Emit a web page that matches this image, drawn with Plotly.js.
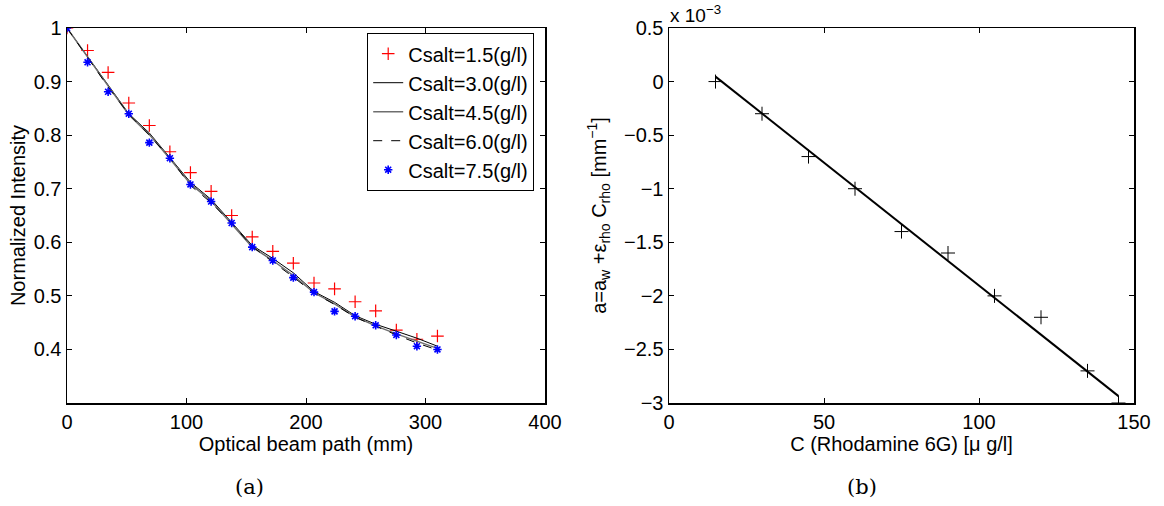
<!DOCTYPE html>
<html>
<head>
<meta charset="utf-8">
<script src="https://cdn.plot.ly/plotly-3.0.1.min.js"></script>
<style>
  html, body { margin: 0; padding: 0; background: #fff; }
  #chart { width: 1164px; height: 506px; }
</style>
</head>
<body>
<div id="chart"></div>
<script>
// ---- Panel (a): normalized intensity vs optical beam path ----
const pathMm = [0, 17.2, 34.4, 51.7, 68.9, 86.1, 103.3, 120.6, 137.8, 155.0, 172.2, 189.4, 206.7, 223.9, 241.1, 258.3, 275.6, 292.8, 310.0];
const csalt15 = [1.000, 0.958, 0.917, 0.860, 0.818, 0.769, 0.730, 0.695, 0.650, 0.610, 0.583, 0.561, 0.524, 0.513, 0.489, 0.472, 0.436, 0.419, 0.425];
const csalt30 = [1.000, 0.947, 0.895, 0.840, 0.804, 0.757, 0.712, 0.680, 0.637, 0.594, 0.570, 0.543, 0.508, 0.488, 0.463, 0.447, 0.434, 0.421, 0.406];
const csalt45 = [1.000, 0.945, 0.892, 0.838, 0.801, 0.756, 0.709, 0.677, 0.634, 0.591, 0.566, 0.538, 0.506, 0.485, 0.461, 0.444, 0.429, 0.415, 0.402];
const csalt60 = [1.000, 0.944, 0.890, 0.839, 0.800, 0.757, 0.706, 0.674, 0.635, 0.592, 0.564, 0.535, 0.505, 0.484, 0.460, 0.443, 0.427, 0.412, 0.399];
const csalt75 = [1.000, 0.936, 0.881, 0.840, 0.786, 0.757, 0.708, 0.676, 0.636, 0.591, 0.566, 0.534, 0.507, 0.471, 0.462, 0.445, 0.427, 0.406, 0.400];
const seriesNames = ["Csalt=1.5(g/l)", "Csalt=3.0(g/l)", "Csalt=4.5(g/l)", "Csalt=6.0(g/l)", "Csalt=7.5(g/l)"];
const ticksA_x = [0, 100, 200, 300, 400];
const ticksA_y = [0.4, 0.5, 0.6, 0.7, 0.8, 0.9, 1];

// ---- Panel (b): absorption coefficient vs Rhodamine 6G concentration (values in 1e-3 mm^-1) ----
const rhodamine = [15, 30, 45, 60, 75, 90, 105, 120, 135, 145];
const absorption = [0.0, -0.3, -0.7, -1.0, -1.4, -1.6, -2.0, -2.2, -2.7, -3.0];
const fitX = [15, 145];
const fitY = [0.046, -2.936];
const ticksB_x = [0, 50, 100, 150];
const ticksB_y = [0.5, 0, -0.5, -1, -1.5, -2, -2.5, -3];

const FONT = "Liberation Sans, Arial, Helvetica, sans-serif";
const FS = 20;

const traces = [
  {x: pathMm, y: csalt15, name: seriesNames[0], type: "scatter", mode: "markers",
   marker: {symbol: "cross-thin-open", size: 9, color: "#ff0000", line: {color: "#ff0000", width: 1.2}},
   xaxis: "x", yaxis: "y"},
  {x: pathMm, y: csalt30, name: seriesNames[1], type: "scatter", mode: "lines",
   line: {color: "#000000", width: 1}, xaxis: "x", yaxis: "y"},
  {x: pathMm, y: csalt45, name: seriesNames[2], type: "scatter", mode: "lines",
   line: {color: "#6e6e6e", width: 1.5}, xaxis: "x", yaxis: "y"},
  {x: pathMm, y: csalt60, name: seriesNames[3], type: "scatter", mode: "lines",
   line: {color: "#000000", width: 1, dash: "dash"}, xaxis: "x", yaxis: "y"},
  {x: pathMm, y: csalt75, name: seriesNames[4], type: "scatter", mode: "markers",
   marker: {symbol: "asterisk-open", size: 7, color: "#0000ff", line: {color: "#0000ff", width: 1.6}},
   xaxis: "x", yaxis: "y"},
  {x: rhodamine, y: absorption, type: "scatter", mode: "markers", showlegend: false,
   marker: {symbol: "cross-thin-open", size: 10, color: "#000000", line: {color: "#000000", width: 1}},
   xaxis: "x2", yaxis: "y2"},
  {x: fitX, y: fitY, type: "scatter", mode: "lines", showlegend: false,
   line: {color: "#000000", width: 2}, xaxis: "x2", yaxis: "y2"}
];

const W = 1164, H = 506;
const axisCommon = {
  showline: true, linecolor: "#000", linewidth: 1.5, mirror: "ticks",
  ticks: "inside", ticklen: 5, tickwidth: 1, tickcolor: "#000",
  showgrid: false, zeroline: false,
  tickfont: {family: FONT, size: FS, color: "#000"},
  title: {font: {family: FONT, size: FS, color: "#000"}}
};

const layout = {
  width: W, height: H,
  margin: {l: 0, r: 0, t: 0, b: 0},
  paper_bgcolor: "#fff", plot_bgcolor: "#fff",
  font: {family: FONT, size: FS, color: "#000"},
  showlegend: true,
  legend: {
    x: 367 / W, y: 1 - 33 / H, xanchor: "left", yanchor: "top",
    bgcolor: "#fff", bordercolor: "#000", borderwidth: 1.2,
    font: {family: FONT, size: FS, color: "#000"},
    tracegroupgap: 0, itemwidth: 30
  },
  xaxis: Object.assign({}, axisCommon, {
    domain: [67 / W, 545 / W], range: [0, 400], tickvals: ticksA_x,
    anchor: "y",
    title: {text: "Optical beam path (mm)", standoff: 0, font: {family: FONT, size: FS, color: "#000"}}
  }),
  yaxis: Object.assign({}, axisCommon, {
    domain: [1 - 403 / H, 1 - 28 / H], range: [0.3, 1], tickvals: ticksA_y,
    anchor: "x",
    title: {text: "Normalized Intensity", standoff: 2, font: {family: FONT, size: FS, color: "#000"}}
  }),
  xaxis2: Object.assign({}, axisCommon, {
    domain: [669 / W, 1134 / W], range: [0, 150], tickvals: ticksB_x,
    anchor: "y2",
    title: {text: "C (Rhodamine 6G) [μ g/l]", standoff: 0, font: {family: FONT, size: FS, color: "#000"}}
  }),
  yaxis2: Object.assign({}, axisCommon, {
    domain: [1 - 403 / H, 1 - 28 / H], range: [-3, 0.5], tickvals: ticksB_y,
    anchor: "x2",
    title: {text: "a=a<sub>w</sub> +ε<sub>rho</sub> C<sub>rho</sub> [mm<sup>−1</sup>]", standoff: 12,
            font: {family: FONT, size: FS, color: "#000"}}
  }),
  annotations: [
    {text: "x 10<sup>−3</sup>", xref: "paper", yref: "paper", x: 669 / W, y: 1 - 1 / H,
     xanchor: "left", yanchor: "top", showarrow: false, borderpad: 0,
     font: {family: FONT, size: 19, color: "#000"}},
    {text: "(a)", xref: "paper", yref: "paper", x: 250 / W, y: 1 - 487 / H,
     xanchor: "center", yanchor: "middle", showarrow: false,
     font: {family: "DejaVu Serif, Liberation Serif, serif", size: 21, color: "#000"}},
    {text: "(b)", xref: "paper", yref: "paper", x: 862 / W, y: 1 - 487 / H,
     xanchor: "center", yanchor: "middle", showarrow: false,
     font: {family: "DejaVu Serif, Liberation Serif, serif", size: 21, color: "#000"}}
  ]
};

Plotly.newPlot("chart", traces, layout, {displayModeBar: false, staticPlot: true});
</script>
</body>
</html>
